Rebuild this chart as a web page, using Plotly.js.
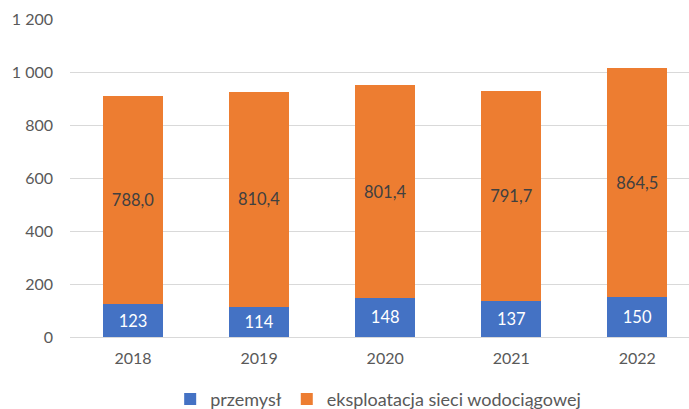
<!DOCTYPE html>
<html>
<head>
<meta charset="utf-8">
<script src="https://cdn.plot.ly/plotly-3.0.1.min.js"></script>
<style>html,body{margin:0;padding:0;background:#fff;}#chart{width:689px;height:409px;}</style>
</head>
<body>
<div id="chart"></div>
<script>
const years = ['2018', '2019', '2020', '2021', '2022'];
const przemysl = [123, 114, 148, 137, 150];
const eksploatacja = [788.0, 810.4, 801.4, 791.7, 864.5];
const seriesNames = ['przemysł', 'eksploatacja sieci wodociągowej'];
const yTicks = [0, 200, 400, 600, 800, 1000, 1200];

const font = 'Lato, "Open Sans", sans-serif';
const gray = '#595959';

const traces = [
  {
    type: 'bar', name: seriesNames[0], x: years, y: przemysl,
    marker: {color: '#4472C4'},
    texttemplate: '%{y:.0f}', textposition: 'inside', insidetextanchor: 'middle',
    textfont: {color: '#ffffff', size: 16.5, family: font},
    hoverinfo: 'none'
  },
  {
    type: 'bar', name: seriesNames[1], x: years, y: eksploatacja,
    marker: {color: '#ED7D31'},
    texttemplate: '%{y:.1f}', textposition: 'inside', insidetextanchor: 'middle',
    textfont: {color: '#404040', size: 16.5, family: font},
    hoverinfo: 'none'
  }
];

const layout = {
  width: 689, height: 409,
  margin: {l: 70, r: 0, t: 19, b: 72, autoexpand: false},
  barmode: 'stack',
  bargap: 0.524,
  separators: ', ',
  paper_bgcolor: '#ffffff', plot_bgcolor: '#ffffff',
  font: {family: font, color: gray, size: 16},
  showlegend: true,
  legend: {
    orientation: 'h', x: 0.247, xref: 'container', xanchor: 'left',
    y: 0.024, yref: 'container', yanchor: 'middle',
    font: {size: 18, color: gray, family: font}, itemwidth: 30, traceorder: 'normal'
  },
  xaxis: {
    type: 'category', range: [-0.5, 4.41], showgrid: false, showline: false, automargin: false,
    zeroline: false, ticks: '', tickfont: {size: 16, color: gray}, ticklabelstandoff: 10
  },
  yaxis: {
    range: [0, 1200], tickvals: yTicks, separatethousands: true, tickformat: ',d', automargin: false,
    showgrid: true, gridcolor: '#D9D9D9', gridwidth: 1,
    zeroline: true, zerolinecolor: '#D9D9D9', zerolinewidth: 1,
    showline: false, ticks: '', tickfont: {size: 16, color: gray}, ticklabelstandoff: 16
  }
};

Plotly.newPlot('chart', traces, layout, {displayModeBar: false, staticPlot: true});
</script>
</body>
</html>
